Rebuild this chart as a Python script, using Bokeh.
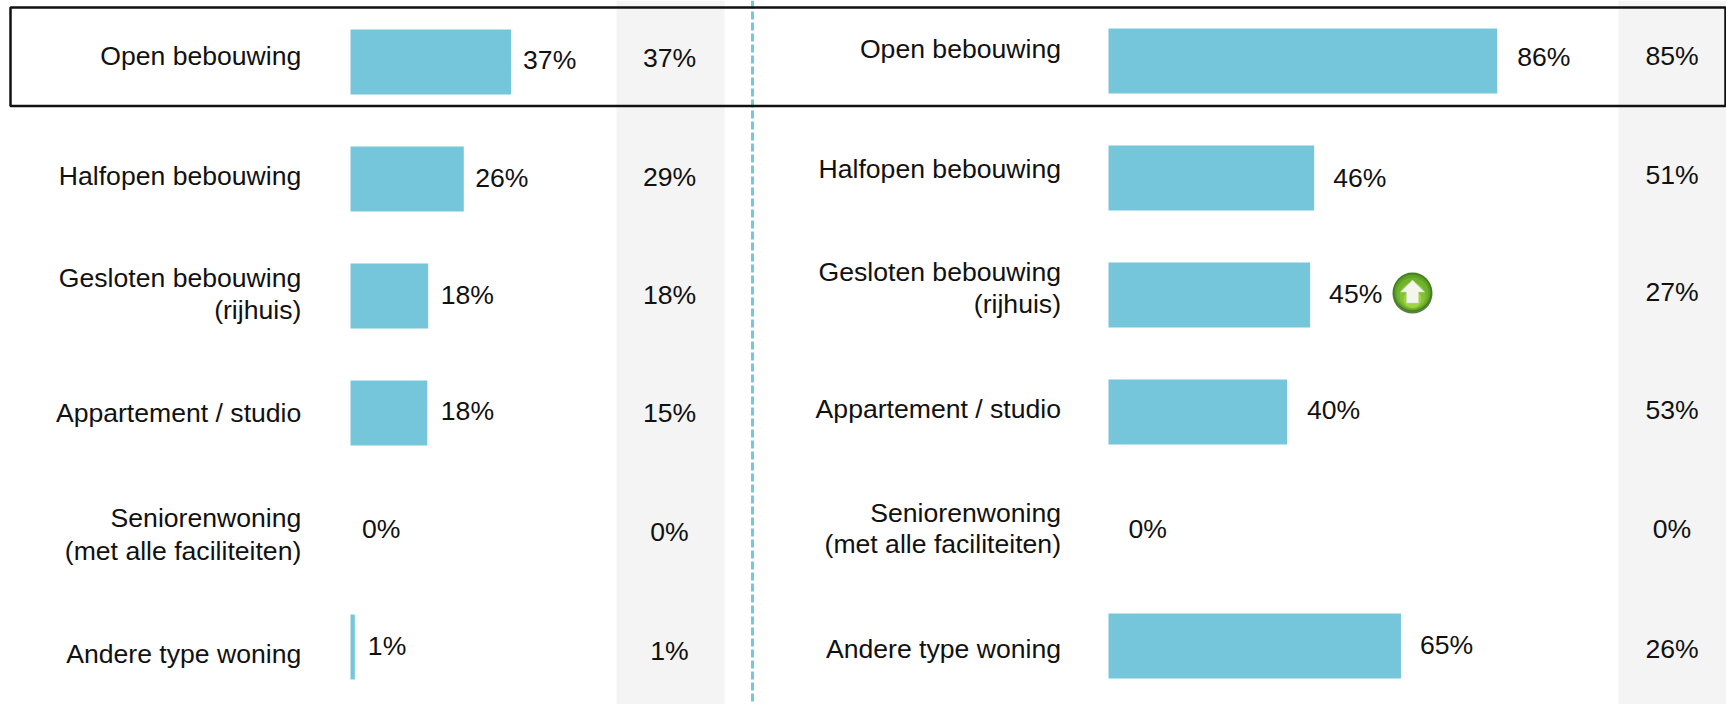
from bokeh.plotting import figure
from bokeh.models import Range1d
from bokeh.core.properties import value
from bokeh.embed import file_html
from bokeh.resources import INLINE

# ---- data ----
rows = [0, 1, 2, 3, 4, 5]
label_lines = ["Open bebouwing", "Halfopen bebouwing", "Gesloten bebouwing", "(rijhuis)",
               "Appartement / studio", "Seniorenwoning", "(met alle faciliteiten)", "Andere type woning"]
label_rows = [0, 1, 2, 2, 3, 4, 4, 5]

left_bars = [37.0, 26.1, 17.9, 17.7, 0, 1.0]
left_labels = ["37%", "26%", "18%", "18%", "0%", "1%"]
left_compare = ["37%", "29%", "18%", "15%", "0%", "1%"]

right_bars = [86.0, 45.5, 44.6, 39.5, 0, 64.7]
right_labels = ["86%", "46%", "45%", "40%", "0%", "65%"]
right_compare = ["85%", "51%", "27%", "53%", "0%", "26%"]

# ---- styling / layout ----
W, H = 1726, 704
TEAL = "#75c6da"
BAND = "#f4f4f4"
FONT = value("Liberation Sans")
SIZE = value("26.6px")
INK = "#111111"

p = figure(width=W, height=H, output_backend="svg", toolbar_location=None,
           x_range=Range1d(0, W), y_range=Range1d(H, 0),
           x_axis_type=None, y_axis_type=None, min_border=0,
           outline_line_color=None, margin=(0, 0, 0, 0))
p.grid.visible = False

def x_scale(zero_px, px_per_pct):
    return Range1d(-zero_px / px_per_pct, (W - zero_px) / px_per_pct)

def y_scale(first_px, step):
    return Range1d((H - first_px) / step, -first_px / step)

p.extra_x_ranges = {"xl": x_scale(350, 4.34), "xr": x_scale(1108, 4.52)}
p.extra_y_ranges = {"yl": y_scale(61.5, 117.0), "yr": y_scale(60.5, 117.0)}

# page furniture
p.quad(left=[616, 1618], right=[724, 1726], top=[0, 0], bottom=[H, H],
       fill_color=BAND, line_color=None)
p.line([752, 752], [0, H], line_color="#74c8dc", line_width=3, line_dash="8 3")

def text(xs, ys, txt, align, xr="default", yr="default", dx=0, dy=0):
    p.text(x=xs, y=ys, text=txt, x_offset=dx, y_offset=dy,
           x_range_name=xr, y_range_name=yr,
           text_font=FONT, text_font_size=SIZE, text_color=INK,
           text_align=align, text_baseline="alphabetic")

# bars
p.hbar(y=rows, height=0.555, left=0, right=left_bars, fill_color=TEAL, line_color=None,
       x_range_name="xl", y_range_name="yl")
p.hbar(y=rows, height=0.555, left=0, right=right_bars, fill_color=TEAL, line_color=None,
       x_range_name="xr", y_range_name="yr")

# category labels (offset of each baseline from its row centre)
text([300.8] * 8, label_rows, label_lines, "right", yr="yl",
     dy=[-6.2, -3.2, -18.4, 13.7, -0.2, -11.8, 21, 7.4])
text([1060.5] * 8, label_rows, label_lines, "right", yr="yr",
     dy=[-12.4, -9.4, -22.7, 8.6, -3.4, -15.8, 14.7, 3.3])

# value labels, placed from the end of each bar
text(left_bars, rows, left_labels, "left", xr="xl", yr="yl",
     dx=[12, 11.5, 12.5, 13.5, 11.5, 13],
     dy=[-2, -0.6, -1.4, -1.8, -1.1, -1.1])
text(right_bars, rows, right_labels, "left", xr="xr", yr="yr",
     dx=[20, 19, 19, 20, 20, 19],
     dy=[-3.6, 0.4, -1.1, -2.5, 0.4, -0.7])

# comparison column
text([669] * 6, rows, left_compare, "center", yr="yl",
     dy=[-3.6, -2.3, -1.4, -0.2, 2.2, 3.9])
text([1671.5] * 6, rows, right_compare, "center", yr="yr",
     dy=[-5.3, -3.3, -2.7, -2.5, 0.4, 2.6])

# highlight frame on the first row
p.quad(left=[10], right=[1725], top=[7], bottom=[105.5], fill_color=None,
       line_color="#111111", line_width=2.5)

# green "up" icon beside the third row on the right
ICON_X, ICON_Y = 1412, 291.5
for r, dy, colour in [(20, 1.5, "#5d7d46"), (19.5, 0, "#41801a"), (18, 0.5, "#5da024"),
                      (16, 1.5, "#6fb32c"), (13, 3.5, "#84c234"), (9, 7, "#9fd341")]:
    p.circle(x=[ICON_X], y=[ICON_Y + dy], radius=r, fill_color=colour, line_color=None)
p.patch(x=[ICON_X, ICON_X + 12, ICON_X + 6, ICON_X + 6, ICON_X - 6, ICON_X - 6, ICON_X - 12],
        y=[ICON_Y - 12, ICON_Y, ICON_Y, ICON_Y + 11, ICON_Y + 11, ICON_Y, ICON_Y],
        fill_color="#f4f6ee", line_color="#cfd8c4", line_width=0.5)

open("out.html", "w").write(file_html(p, INLINE))
